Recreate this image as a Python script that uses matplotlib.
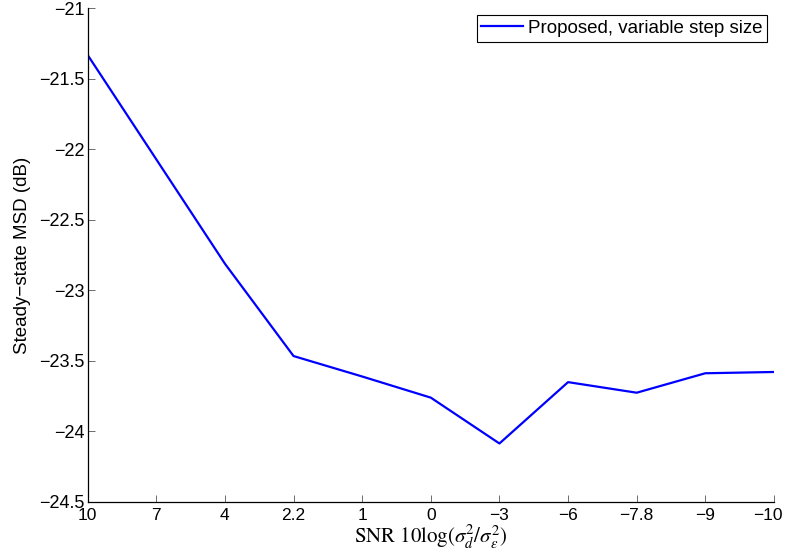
import numpy as np
import matplotlib.pyplot as plt
import matplotlib.transforms as mtransforms

plt.rcParams['font.family'] = ['Liberation Sans', 'DejaVu Sans']
plt.rcParams['mathtext.fontset'] = 'stix'

snr_labels = ['10', '7', '4', '2.2', '1', '0', '\u22123', '\u22126', '\u22127.8', '\u22129', '\u221210']
msd = [-21.33, -22.07, -22.81, -23.465, -23.61, -23.76, -24.085, -23.65, -23.725, -23.587, -23.578]
y_ticks = [-24.5, -24, -23.5, -23, -22.5, -22, -21.5, -21]

fig = plt.figure(figsize=(7.87, 5.59), dpi=100)
ax = fig.add_axes([0.1114, 0.102, 0.872, 0.8828])

x = np.arange(len(msd))
ax.plot(x, msd, color=(0, 0, 1), lw=1.6, label='Proposed, variable step size')

ax.set_xlim(0, len(msd) - 1)
ax.set_ylim(-24.5, -21)
ax.set_xticks(x)
ax.set_xticklabels(snr_labels, size=12.5)
ax.set_yticks(y_ticks)
ax.set_yticklabels([f'{v:g}'.replace('-', '\u2212') for v in y_ticks], size=13)
ax.tick_params(direction='in', length=5, width=0.6, color='#555555', pad=2)
ax.tick_params(axis='x', pad=4)

# keep the last label inside the figure, as in the original
last = ax.get_xticklabels()[-1]
last.set_transform(last.get_transform() +
                   mtransforms.ScaledTranslation(-6 / 100, 0, fig.dpi_scale_trans))

ax.spines['top'].set_visible(False)
ax.spines['right'].set_visible(False)
for s in ['left', 'bottom']:
    ax.spines[s].set_linewidth(0.9)

ax.set_xlabel(r'$\mathrm{SNR}\ 10\log(\sigma_d^2/\sigma_\varepsilon^2)$', size=15, labelpad=1)
ax.set_ylabel('Steady\u2212state MSD (dB)', size=13.5, labelpad=6)

leg = ax.legend(loc='upper right', fontsize=13.5, fancybox=False, framealpha=1,
                edgecolor='black', borderaxespad=0.35, borderpad=0.25,
                handlelength=2.2, handletextpad=0.3)
leg.get_frame().set_linewidth(0.8)

fig.savefig('out.png', dpi=100)
